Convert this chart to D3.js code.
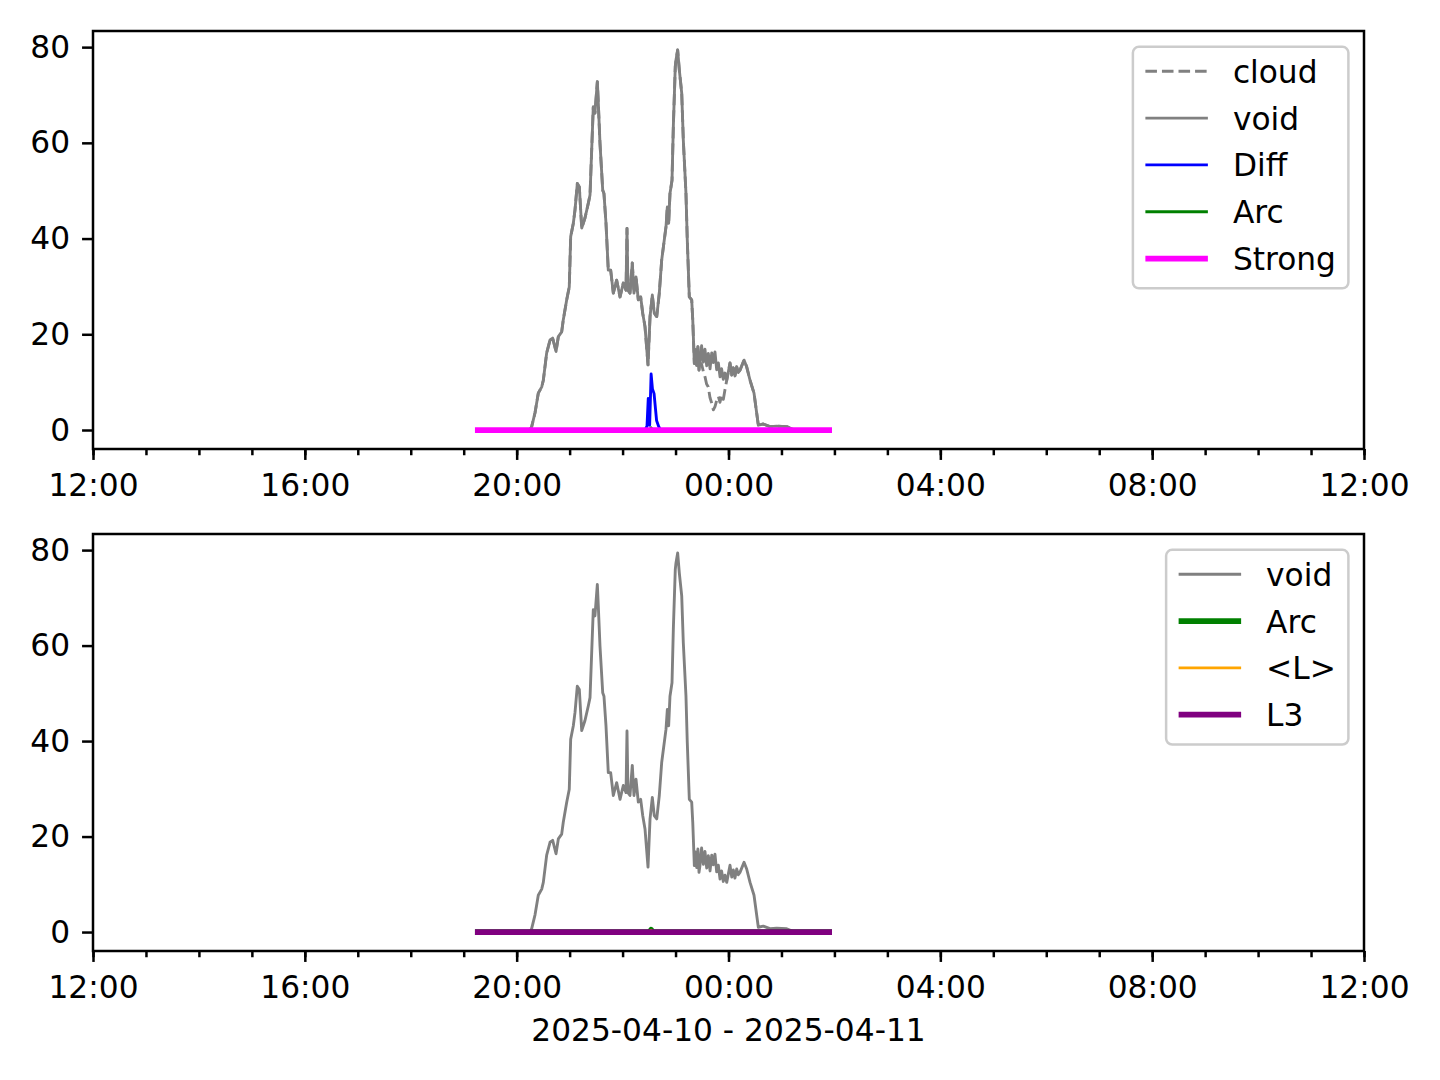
<!DOCTYPE html>
<html><head><meta charset="utf-8">
<script src="https://cdn.jsdelivr.net/npm/d3@7"></script>
<style>body{margin:0;background:#fff} svg{display:block} text{font-family:"DejaVu Sans",sans-serif;}</style>
</head><body><svg id="c" width="1440" height="1080"></svg>
<script>
// ---- data ----
const voidTimes = ["19:16:00","20:15:00","20:17:00","20:20:48","20:24:30","20:28:24","20:30:12","20:34:00","20:37:48","20:40:48","20:44:36","20:47:12","20:51:00","20:52:48","20:56:42","20:59:36","21:01:12","21:04:12","21:06:06","21:08:42","21:11:00","21:13:42","21:17:24","21:21:12","21:23:06","21:26:48","21:28:42","21:31:24","21:32:30","21:34:24","21:37:30","21:38:54","21:41:12","21:43:48","21:46:30","21:49:30","21:53:18","21:57:06","22:00:48","22:03:54","22:05:00","22:06:06","22:08:24","22:11:00","22:12:54","22:15:12","22:17:48","22:20:30","22:22:48","22:25:24","22:28:48","22:31:06","22:33:42","22:35:54","22:38:42","22:41:36","22:44:18","22:49:12","22:50:42","22:52:12","22:53:42","22:56:00","22:57:30","22:59:42","23:00:30","23:02:24","23:04:18","23:07:00","23:08:48","23:11:48","23:13:18","23:15:36","23:18:18","23:19:30","23:21:18","23:22:40","23:24:00","23:25:20","23:26:36","23:27:42","23:29:30","23:31:30","23:33:20","23:35:18","23:37:10","23:39:06","23:41:00","23:42:48","23:44:40","23:46:36","23:48:30","23:50:24","23:52:10","23:54:06","23:56:00","23:58:00","00:01:42","00:03:40","00:05:30","00:07:20","00:09:18","00:11:10","00:13:00","00:17:36","00:20:36","00:24:24","00:28:54","00:33:48","00:39:24","00:47:00","00:54:36","01:06:00","01:15:00","01:54:00"];
const voidValues = [0,0,0.7,3.6,7.7,9.0,10.4,16.1,18.8,19.2,16.4,19.5,20.5,23.0,27.2,29.9,40.4,43.2,46.0,51.5,50.8,42.2,44.3,47.4,49.1,67.5,66.2,72.8,68.3,59.9,50.1,49.4,43.2,33.4,33.4,28.6,31.3,27.8,30.7,29.2,42.1,29.2,28.6,34.9,28.6,32.0,27.2,27.8,24.4,21.6,13.6,23.7,28.2,24.4,23.7,28.6,35.5,42.5,46.6,43.2,49.4,52.2,63.4,75.9,77.3,79.4,75.2,70.4,60.6,49.5,39.7,27.8,27.2,23.0,13.9,16.8,13.5,17.4,12.5,14.0,17.6,14.2,16.9,13.4,16.0,12.8,16.1,14.1,16.3,12.6,14.0,11.1,12.8,10.6,11.9,10.4,14.0,11.5,13.0,11.3,13.2,12.0,12.5,14.6,13.2,10.4,7.7,1.0,1.25,0.7,0.8,0.7,0,0];

const cloudTimes = ["19:16:00","20:15:00","20:17:00","20:20:48","20:24:30","20:28:24","20:30:12","20:34:00","20:37:48","20:40:48","20:44:36","20:47:12","20:51:00","20:52:48","20:56:42","20:59:36","21:01:12","21:04:12","21:06:06","21:08:42","21:11:00","21:13:42","21:17:24","21:21:12","21:23:06","21:26:48","21:28:42","21:31:24","21:32:30","21:34:24","21:37:30","21:38:54","21:41:12","21:43:48","21:46:30","21:49:30","21:53:18","21:57:06","22:00:48","22:03:54","22:05:00","22:06:06","22:08:24","22:11:00","22:12:54","22:15:12","22:17:48","22:20:30","22:22:48","22:25:24","22:28:48","22:31:06","22:33:42","22:35:54","22:38:42","22:41:36","22:44:18","22:49:12","22:50:42","22:52:12","22:53:42","22:56:00","22:57:30","22:59:42","23:00:30","23:02:24","23:04:18","23:07:00","23:08:48","23:11:48","23:13:18","23:15:36","23:18:18","23:19:30","23:21:18","23:22:40","23:24:00","23:25:20","23:26:36","23:27:42","23:29:30","23:31:30","23:33:24","23:35:10","23:37:06","23:39:00","23:41:00","23:42:50","23:44:42","23:46:40","23:48:30","23:50:20","23:52:18","23:54:10","23:56:00","23:58:00","00:01:42","00:03:40","00:05:30","00:07:20","00:09:18","00:11:10","00:13:00","00:17:36","00:20:36","00:24:24","00:28:54","00:33:48","00:39:24","00:47:00","00:54:36","01:06:00","01:15:00","01:54:00"];
const cloudValues = [0,0,0.7,3.6,7.7,9.0,10.4,16.1,18.8,19.2,16.4,19.5,20.5,23.0,27.2,29.9,40.4,43.2,46.0,51.5,50.8,42.2,44.3,47.4,49.1,67.5,66.2,72.8,68.3,59.9,50.1,49.4,43.2,33.4,33.4,28.6,31.3,27.8,30.7,29.2,42.1,29.2,28.6,34.9,28.6,32.0,27.2,27.8,24.4,21.6,13.6,23.7,28.2,24.4,23.7,28.6,35.5,42.5,46.6,43.2,49.4,52.2,63.4,75.9,77.3,79.4,75.2,70.4,60.6,49.5,39.7,27.8,27.2,23.0,13.9,16.8,13.5,17.4,12.5,14.0,13.8,12.2,11.1,9.6,9.0,6.8,5.6,4.2,4.9,6.2,7.0,5.8,7.3,6.4,8.4,10.4,14.0,11.5,13.0,11.3,13.2,12.0,12.5,14.6,13.2,10.4,7.7,1.0,1.25,0.7,0.8,0.7,0,0];

const diffTimes = ["19:16:00","22:25:30","22:27:40","22:29:06","22:30:00","22:30:40","22:32:20","22:33:50","22:35:40","22:38:30","22:41:00","22:43:00","01:54:00"];
const diffValues = [0,0,0.8,6.6,6.4,1.0,11.7,8.6,7.6,2.0,0.7,0,0];

const arcTimes = ["19:16:00","22:30:30","22:32:20","22:34:10","01:54:00"];
const arcValues = [0,0,0.45,0,0];

const lMeanTimes = ["19:16:00","22:30:30","22:32:20","22:34:10","01:54:00"];
const lMeanValues = [0,0,0.35,0,0];

const strongTimes = ["19:16:00","01:54:00"];
const strongValues = [0,0];

const l3Times = ["19:16:00","01:54:00"];
const l3Values = [0,0];

const xTickTimes = ["12:00:00","16:00:00","20:00:00","00:00:00","04:00:00","08:00:00","12:00:00+1"];
const xTickLabels = ["12:00","16:00","20:00","00:00","04:00","08:00","12:00"];
const yTickValues = [0,20,40,60,80];
const xLabelText = "2025-04-10 - 2025-04-11";

// ---- helpers ----
function parseT(t){
  let next = false;
  if (t.endsWith("+1")) { next = true; t = t.slice(0,-2); }
  const [h,m,s] = t.split(":").map(Number);
  const day = (next || h < 12) ? 11 : 10;
  return new Date(Date.UTC(2025,3,day,h,m,s||0));
}
const series = (ts, vs) => ts.map((t,i)=>({t:parseT(t), v:vs[i]}));

const FS = 31.25;
const PT = 3.125;
const svg = d3.select("#c");

const xStart = parseT("12:00:00"), xEnd = parseT("12:00:00+1");
const xMinor = d3.utcHour.range(xStart, new Date(+xEnd + 1));
const xMajor = xTickTimes.map(parseT);

const yMax = d3.max(voidValues), yMin = 0;
const pad = 0.05*(yMax-yMin);

function drawAxes(box, lines, legendItems){
  const g = svg.append("g");
  const x = d3.scaleUtc().domain([xStart, xEnd]).range([box.left, box.left+box.width]);
  const y = d3.scaleLinear().domain([yMin-pad, yMax+pad]).range([box.top+box.height, box.top]);
  const line = d3.line().x(d=>x(d.t)).y(d=>y(d.v));

  lines.forEach(L=>{
    g.append("path").attr("d", line(series(L.times, L.values)))
      .attr("fill","none").attr("stroke",L.color).attr("stroke-width",L.lw*PT*0.92)
      .attr("stroke-linejoin","round")
      .attr("stroke-linecap", L.dash ? "butt" : "square")
      .attr("stroke-dasharray", L.dash ? `${3.7*L.lw*PT},${1.6*L.lw*PT}` : null);
  });

  // frame
  g.append("rect").attr("x",box.left).attr("y",box.top).attr("width",box.width).attr("height",box.height)
    .attr("fill","none").attr("stroke","#000").attr("stroke-width",0.8*PT);

  const bottom = box.top+box.height;
  const minorAx = d3.axisBottom(x).tickValues(xMinor).tickSize(2*PT).tickFormat("");
  const gm = g.append("g").attr("transform",`translate(0,${bottom})`).call(minorAx);
  const majorAx = d3.axisBottom(x).tickValues(xMajor).tickSize(3.5*PT).tickPadding(3.5*PT+3)
    .tickFormat((d,i)=>xTickLabels[i]);
  const gx = g.append("g").attr("transform",`translate(0,${bottom})`).call(majorAx);
  const yAx = d3.axisLeft(y).tickValues(yTickValues).tickSize(3.5*PT).tickPadding(3.5*PT+1);
  const gy = g.append("g").attr("transform",`translate(${box.left},0)`).call(yAx);
  [gm,gx,gy].forEach(a=>{
    a.select(".domain").remove();
    a.selectAll("line").attr("stroke","#000").attr("stroke-width",0.8*PT);
    a.selectAll("text").attr("font-size",FS).attr("font-family","DejaVu Sans").attr("fill","#000");
    a.attr("font-size",FS).attr("font-family","DejaVu Sans");
  });

  // legend
  const n = legendItems.length;
  const lg = svg.append("g");
  const rect = lg.append("rect");
  const texts = [];
  legendItems.forEach((it,i)=>{
    const cy = 24.5 + i*46.8;
    lg.append("line").attr("x1",12.5).attr("x2",12.5+62.5).attr("y1",cy).attr("y2",cy)
      .attr("stroke",it.color).attr("stroke-width",it.lw*PT*0.92)
      .attr("stroke-dasharray", it.dash ? `${3.7*it.lw*PT},${1.6*it.lw*PT}` : null);
    texts.push(lg.append("text").attr("x",100).attr("y",cy+0.37*FS).attr("font-size",FS).text(it.label));
  });
  const maxW = d3.max(texts, t=>t.node().getComputedTextLength());
  const w = 100 + maxW + 12.5, h = n*46.8 + 7.5;
  rect.attr("x",0).attr("y",0).attr("width",w).attr("height",h).attr("rx",6).attr("ry",6)
    .attr("fill","#fff").attr("fill-opacity",0.8).attr("stroke","#cccccc").attr("stroke-width",0.8*PT);
  lg.attr("transform",`translate(${box.left+box.width-15.6-w},${box.top+15.8})`);
  return {x,y};
}

const C = {gray:"#808080", blue:"#0000ff", green:"#008000", magenta:"#ff00ff", orange:"#ffa500", purple:"#800080"};

drawAxes({left:93, top:31, width:1271, height:418}, [
  {times:cloudTimes, values:cloudValues, color:C.gray, lw:1, dash:true},
  {times:voidTimes, values:voidValues, color:C.gray, lw:1},
  {times:diffTimes, values:diffValues, color:C.blue, lw:1},
  {times:arcTimes, values:arcValues, color:C.green, lw:1},
  {times:strongTimes, values:strongValues, color:C.magenta, lw:2},
], [
  {label:"cloud", color:C.gray, lw:1, dash:true},
  {label:"void", color:C.gray, lw:1},
  {label:"Diff", color:C.blue, lw:1},
  {label:"Arc", color:C.green, lw:1},
  {label:"Strong", color:C.magenta, lw:2},
]);

drawAxes({left:93, top:534, width:1271, height:417}, [
  {times:voidTimes, values:voidValues, color:C.gray, lw:1},
  {times:arcTimes, values:arcValues, color:C.green, lw:2},
  {times:lMeanTimes, values:lMeanValues, color:C.orange, lw:1},
  {times:l3Times, values:l3Values, color:C.purple, lw:2},
], [
  {label:"void", color:C.gray, lw:1},
  {label:"Arc", color:C.green, lw:2},
  {label:"<L>", color:C.orange, lw:1},
  {label:"L3", color:C.purple, lw:2},
]);

svg.append("text").attr("x",728.5).attr("y",1041).attr("text-anchor","middle")
  .attr("font-size",FS).attr("fill","#000").text(xLabelText);
</script></body></html>
